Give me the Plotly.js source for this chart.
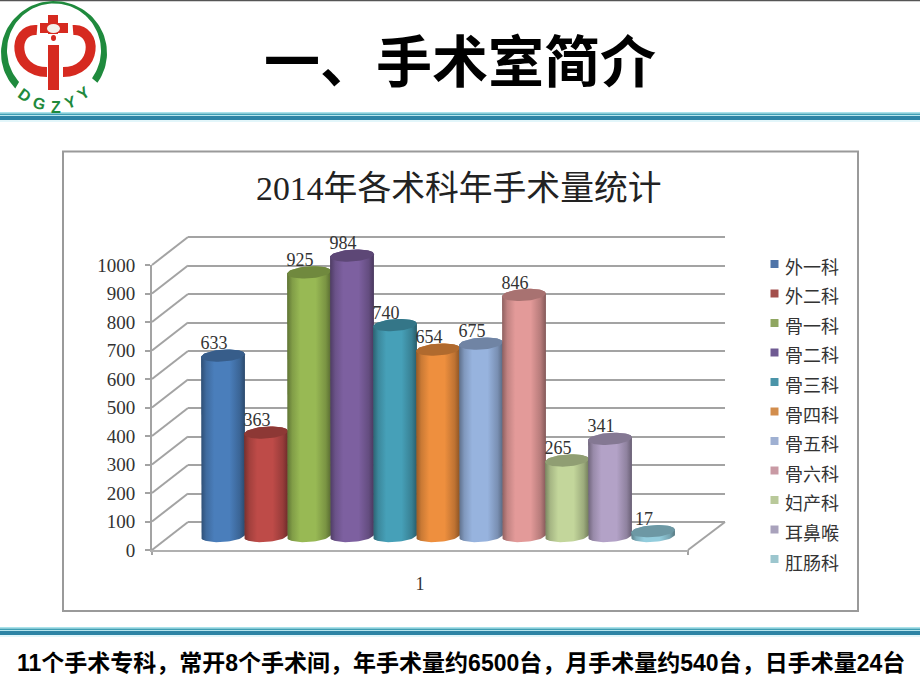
<!DOCTYPE html>
<html><head><meta charset="utf-8">
<script src="https://cdn.plot.ly/plotly-3.0.1.min.js"></script>
<style>html,body{margin:0;padding:0;background:#fff}</style></head>
<body><div id="chart" style="width:920px;height:690px"></div>
<script>
const departments=["外一科","外二科","骨一科","骨二科","骨三科","骨四科","骨五科","骨六科","妇产科","耳鼻喉","肛肠科"];
const surgeries=[633,363,925,984,740,654,675,846,265,341,17];
const seriesColors=["#4a7ebb","#be4b48","#98b954","#7d60a0","#46a0b8","#ee8f3e","#97b3de","#e39a99","#c3d69b","#b3a2c7","#93cddd"];
const legendColors=["#4f74a8","#a34f4c","#8fa661","#6f5a92","#4a94a8","#d28d4c","#9fb0d2","#c99aa4","#b9c99a","#a9a2bc","#9cc6ce"];
const yTicks=[0,100,200,300,400,500,600,700,800,900,1000];
const categoryLabels=["1"];
const pageTitle="一、手术室简介";
const chartTitle="2014年各术科年手术量统计";
const footerText="11个手术专科，常开8个手术间，年手术量约6500台，月手术量约540台，日手术量24台";

const W=920,H=690,UNIT=0.285;
const xDom=(a,b)=>[a/W,b/W], yDom=(top,bot)=>[1-bot/H,1-top/H];
function shade(hex,f){const n=parseInt(hex.slice(1),16);
  return `rgb(${Math.round((n>>16&255)*f)},${Math.round((n>>8&255)*f)},${Math.round((n&255)*f)})`;}
const GRID="#a3a3a3", SERIF="'Liberation Serif','Noto Sans CJK SC',serif", CJK="'Noto Sans CJK SC',sans-serif";
const RX=0.51,RY=21,TILT=5,traces=[];

/* logo ring on the page axes: angles measured in screen space, 90 = straight down */
(function(){const xs=[],ys=[];const a0=137,a1=396,rad=Math.PI/180;
  for(let a=a0;a<=a1;a+=3){xs.push(54+53*Math.cos(a*rad));ys.push(53+52*Math.sin(a*rad));}
  for(let a=a1;a>=a0;a-=3){xs.push(54+47*Math.cos(a*rad));ys.push(50.5+47*Math.sin(a*rad));}
  traces.push({type:'scatter',mode:'lines',x:xs,y:ys,fill:'toself',fillcolor:'#1f8a3d',line:{width:0},xaxis:'x',yaxis:'y',hoverinfo:'skip',showlegend:false});
})();

/* 3D side wall and floor edges */
(function(){const xs=[],ys=[];
  yTicks.forEach(v=>{const fy=550-v*UNIT;xs.push(152,188,null);ys.push(fy,fy-28,null);});
  xs.push(688,725,null,152,152,null,688,688);ys.push(550,522,null,550,555,null,550,555);
  traces.push({type:'scatter',mode:'lines',x:xs,y:ys,line:{color:GRID,width:2},xaxis:'x',yaxis:'y',hoverinfo:'skip',showlegend:false});
})();

/* empty traces so the wall and front axes are drawn */
traces.push({type:'scatter',mode:'lines',x:[null],y:[null],xaxis:'x2',yaxis:'y2',hoverinfo:'skip',showlegend:false});
traces.push({type:'scatter',mode:'lines',x:[null],y:[null],xaxis:'x3',yaxis:'y3',hoverinfo:'skip',showlegend:false});

/* cylinders */
departments.forEach((d,i)=>{
  const v=surgeries[i],c=seriesColors[i],bx=[],by=[],tx=[],ty=[];
  bx.push(i-RX);by.push(v-TILT);
  for(let a=180;a<=360;a+=6){const t=a*Math.PI/180;bx.push(i+RX*Math.cos(t));by.push(RY*Math.sin(t)+TILT*Math.cos(t));}
  for(let a=0;a<=180;a+=6){const t=a*Math.PI/180;bx.push(i+RX*Math.cos(t));by.push(v+RY*Math.sin(t)+TILT*Math.cos(t));}
  for(let a=0;a<=360;a+=6){const t=a*Math.PI/180;tx.push(i+RX*Math.cos(t));ty.push(v+RY*Math.sin(t)+TILT*Math.cos(t));}
  traces.push({type:'scatter',mode:'lines',name:d,x:bx,y:by,fill:'toself',line:{width:0,color:c},
    fillgradient:{type:'horizontal',colorscale:[[0,shade(c,.62)],[.12,shade(c,.85)],[.3,c],[.65,c],[.88,shade(c,.8)],[1,shade(c,.58)]]},
    xaxis:'x4',yaxis:'y4',hoverinfo:'skip',showlegend:false});
  traces.push({type:'scatter',mode:'lines',name:d,x:tx,y:ty,fill:'toself',fillcolor:shade(c,.74),line:{width:0,color:c},
    xaxis:'x4',yaxis:'y4',hoverinfo:'skip',showlegend:false});
});
traces.push({type:'scatter',mode:'text',x:surgeries.map((_,i)=>i-0.21),y:surgeries.map(v=>v+38),
  text:surgeries.map(String),textposition:'middle center',textfont:{family:SERIF,size:18,color:'#333'},
  xaxis:'x4',yaxis:'y4',hoverinfo:'skip',showlegend:false,cliponaxis:false});
/* legend swatches */
traces.push({type:'scatter',mode:'markers',x:departments.map(()=>774.5),y:departments.map((_,i)=>264+29.5*i),
  marker:{symbol:'square',size:8,color:legendColors},xaxis:'x',yaxis:'y',hoverinfo:'skip',showlegend:false});

const RED='#d62a20';
const rect=(x0,y0,x1,y1,c)=>({type:'rect',xref:'x',yref:'y',x0,y0,x1,y1,fillcolor:c,line:{width:0},layer:'below'});
const band=y=>[rect(0,y,W,y+1.5,'#a8e2ea'),rect(0,y+1.5,W,y+3,'#3f9fb4'),rect(0,y+3,W,y+4,'#b8e6ee'),
               rect(0,y+4,W,y+8,'#2d84a5'),rect(0,y+8,W,y+10,'#e3f6fa')];
const redPath=(p)=>({type:'path',xref:'x',yref:'y',path:p,line:{color:RED,width:10},fillcolor:'rgba(0,0,0,0)',layer:'below'});
const shapes=[
  rect(0,0,W,1.2,'#555555'),
  ...band(112),...band(627),
  {type:'rect',xref:'x',yref:'y',x0:63,y0:151.5,x1:858,y1:611,fillcolor:'#fff',line:{color:'#9a9a9a',width:2},layer:'below'},
  redPath('M37,30 C12,28 12,72 47,72'),
  redPath('M73,30 C98,28 98,72 63,72'),
  rect(48,45,59,90,RED),
  rect(48,15,58,34,RED),
  rect(40,23,68,33,RED),
  {type:'circle',xref:'x',yref:'y',x0:47,y0:24,x1:60,y1:33,fillcolor:'#f3f0ea',line:{width:0},layer:'below'},
  {type:'circle',xref:'x',yref:'y',x0:51,y0:35,x1:56,y1:41,fillcolor:RED,line:{width:0},layer:'below'}
];

const ann=(text,x,y,size,color,family,extra)=>Object.assign({xref:'x',yref:'y',x,y,text,showarrow:false,
  font:{size,color,family},xanchor:'center',yanchor:'middle'},extra||{});
const SANS="'Liberation Sans','Noto Sans CJK SC',sans-serif";
const annotations=[
  ann(`<b>${pageTitle}</b>`,460,62,56,'#000',SANS),
  ann(chartTitle,459,188,33.8,'#222',SERIF),
  ann(`<b>${footerText}</b>`,461,663,23,'#000',SANS),
  ...departments.map((d,i)=>ann(d,783,265.5+29.6*i,18,'#333',CJK,{xanchor:'left'})),
  ann('<b>D</b>',25,95,16,'#1f8a3d',SANS,{textangle:35}),
  ann('<b>G</b>',39,103,16,'#1f8a3d',SANS,{textangle:15}),
  ann('<b>Z</b>',56,107,16,'#1f8a3d',SANS,{textangle:0}),
  ann('<b>Y</b>',70,102,16,'#1f8a3d',SANS,{textangle:-20}),
  ann('<b>Y</b>',83,93,16,'#1f8a3d',SANS,{textangle:-35})
];

const hidden={visible:false,fixedrange:true};
const layout={width:W,height:H,margin:{l:0,r:0,t:0,b:0},paper_bgcolor:'#fff',plot_bgcolor:'rgba(0,0,0,0)',showlegend:false,
  shapes,annotations,
  xaxis:Object.assign({},hidden,{domain:[0,1],range:[0,W],anchor:'y'}),
  yaxis:Object.assign({},hidden,{domain:[0,1],range:[H,0],anchor:'x'}),
  /* back wall: range runs past both ends so the 0 and 1000 gridlines are kept */
  xaxis2:Object.assign({},hidden,{domain:xDom(188,725),range:[0,1],anchor:'y2'}),
  yaxis2:{domain:yDom(237-50*UNIT,522+50*UNIT),range:[-50,1050],tickvals:yTicks,anchor:'x2',showgrid:true,gridcolor:GRID,gridwidth:2,zeroline:false,showticklabels:false,ticks:'',showline:false},
  /* front axes */
  xaxis3:{domain:xDom(152,688),range:[0,1],anchor:'y3',tickvals:[0.5],ticktext:categoryLabels,ticks:'',ticklabelstandoff:16,showgrid:false,zeroline:false,showline:true,linecolor:'#b0b0b0',linewidth:2,tickfont:{family:SERIF,size:18,color:'#333'}},
  yaxis3:{domain:yDom(265,550),range:[0,1000],tickvals:yTicks,anchor:'x3',showgrid:false,zeroline:false,showline:true,linecolor:GRID,linewidth:2,ticks:'outside',ticklen:5,tickwidth:2,tickcolor:GRID,ticklabelstandoff:6,tickfont:{family:SERIF,size:19,color:'#333'}},
  /* cylinder plane */
  xaxis4:Object.assign({},hidden,{domain:xDom(152,688),range:[(152-223)/43,(688-223)/43],anchor:'y4'}),
  yaxis4:Object.assign({},hidden,{domain:yDom(536-1100*UNIT,536+100*UNIT),range:[-100,1100],anchor:'x4'})
};
Plotly.newPlot('chart',traces,layout,{staticPlot:true,displayModeBar:false});
</script></body></html>
